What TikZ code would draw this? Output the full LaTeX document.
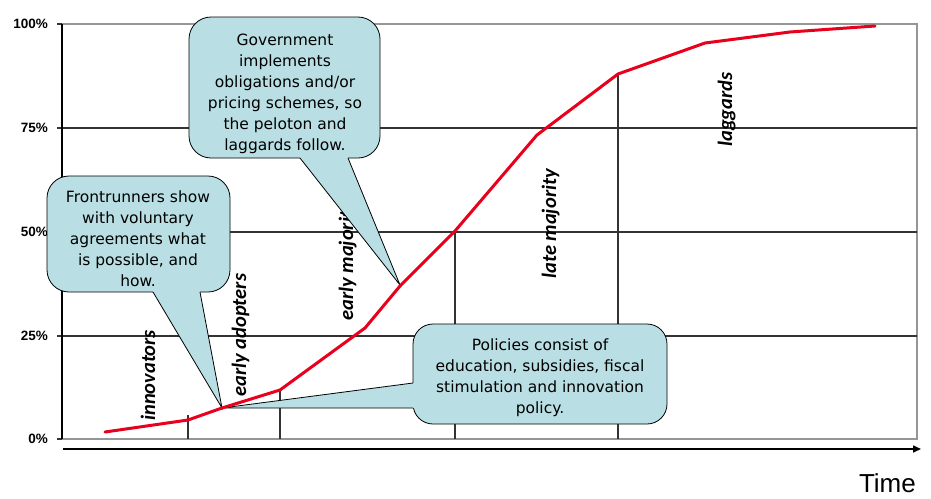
\documentclass[tikz,border=0pt]{standalone}
\usepackage{fontspec}
\setmainfont{DejaVu Sans}
\newfontfamily\stagefont{Carlito}
\newfontfamily\timefont{Liberation Sans}
\usetikzlibrary{arrows.meta}
\definecolor{callfill}{RGB}{185,223,228}
\definecolor{curvered}{RGB}{232,0,28}
\definecolor{griddark}{RGB}{51,51,51}
\definecolor{gridgray}{RGB}{150,150,150}
\tikzset{
  gridline/.style={griddark, line width=1.2pt},
  borderline/.style={gridgray, line width=1.2pt},
  ylab/.style={anchor=east, inner sep=0pt, font=\timefont\bfseries\fontsize{13.5}{14}\selectfont},
  stagelab/.style={rotate=90, anchor=base west, inner sep=0pt, font=\stagefont\bfseries\itshape\fontsize{20.5}{22}\selectfont},
  callbox/.style={draw=black, line width=0.8pt, fill=callfill, rounded corners=22pt},
  callptr/.style={draw=black, line width=0.8pt},
  calltext/.style={align=center, inner sep=0pt, font=\fontsize{15.5}{21}\selectfont},
  adoption/.style={curvered, line width=3pt, line join=round, line cap=round}
}
\begin{document}
\begin{tikzpicture}[x=1pt,y=-1pt]
\useasboundingbox (0,0) rectangle (931,498);
% grid
\draw[borderline] (62,24) -- (917,24) -- (917,439) -- (62,439);
\draw[gridline] (57,128) -- (917,128);
\draw[gridline] (57,232) -- (917,232);
\draw[gridline] (57,336) -- (917,336);
\draw[gridline] (57,24) -- (62,24);
\draw[gridline] (57,439) -- (62,439);
\draw[black, line width=1.2pt] (62,24) -- (62,439);
% vertical stage separators
\draw[gridline] (188,415) -- (188,439);
\draw[gridline] (280,390) -- (280,439);
\draw[gridline] (455,231) -- (455,439);
\draw[gridline] (618,74) -- (618,439);
% y labels
\node[ylab] (y100) at (48,24) {100\%};
\node[ylab] (y75) at (48,128) {75\%};
\node[ylab] (y50) at (48,232) {50\%};
\node[ylab] (y25) at (48,336) {25\%};
\node[ylab] (y0) at (48,439) {0\%};
% time axis
\draw[black, line width=1.5pt, -{Triangle[length=8pt,width=7pt]}] (63,449) -- (921,449);
\node[anchor=base east, inner sep=0pt, font=\timefont\fontsize{26}{28}\selectfont] (time) at (916,492) {Time};
% stage labels
\node[stagelab] (innov) at (155,421) {innovators};
\node[stagelab] (eadopt) at (246,397) {early adopters};
\node[stagelab] (emaj) at (353,321) {early majority};
\node[stagelab] (lmaj) at (556,279) {late majority};
\node[stagelab] (lagg) at (732,147) {laggards};
% callout: government
\draw[callbox] (189,17) rectangle (380,158);
\fill[callfill] (300,154) -- (300,158) -- (400,285) -- (348,158) -- (348,154) -- cycle;
\draw[callptr] (300,158) -- (400,285) -- (348,158);
\node[calltext] (gov) at (285,94) {Government\\implements\\obligations and/or\\pricing schemes, so\\the peloton and\\laggards follow.};
% callout: frontrunners
\draw[callbox] (47,176) rectangle (230,292);
\fill[callfill] (153,288) -- (153,292) -- (222,408) -- (200,292) -- (200,288) -- cycle;
\draw[callptr] (153,292) -- (222,408) -- (200,292);
\node[calltext] (front) at (138,239) {Frontrunners show\\with voluntary\\agreements what\\is possible, and\\how.};
% callout: policies
\draw[callbox, rounded corners=20pt] (413,324) rectangle (667,424);
\fill[callfill] (417,383) -- (413,383) -- (222,408) -- (413,408) -- (417,408) -- cycle;
\draw[callptr] (413,383) -- (222,408) -- (413,408);
\node[calltext] (pol) at (540,378) {Policies consist of\\education, subsidies, fiscal\\stimulation and innovation\\policy.};
% adoption curve
\draw[adoption] (105,432) -- (188,420) -- (222,408) -- (280,390) -- (365,328) -- (400,286) -- (455,231) -- (537,135) -- (618,74) -- (705,43) -- (790,32) -- (875,26);
\end{tikzpicture}
\end{document}
